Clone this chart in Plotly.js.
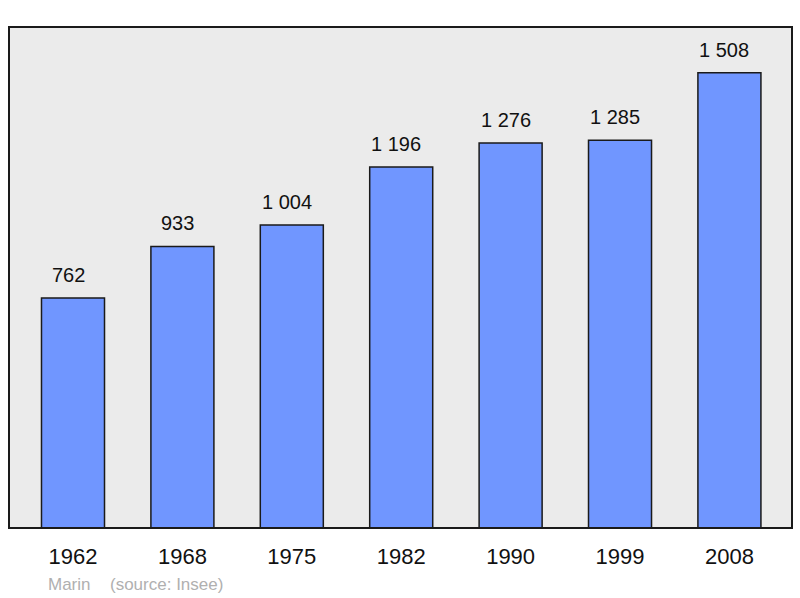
<!DOCTYPE html>
<html>
<head>
<meta charset="utf-8">
<script src="https://cdn.plot.ly/plotly-3.0.1.min.js"></script>
<style>html,body{margin:0;padding:0;background:#fff;}#chart{width:800px;height:598px;}</style>
</head>
<body>
<div id="chart"></div>
<script>
var years = ["1962", "1968", "1975", "1982", "1990", "1999", "2008"];
var population = [762, 933, 1004, 1196, 1276, 1285, 1508];
var labels = ["762", "933", "1 004", "1 196", "1 276", "1 285", "1 508"];
var commune = "Marin";
var source = "(source: Insee)";

var trace = {
  type: "bar",
  x: years,
  y: population,
  width: 0.576,
  marker: {color: "#7096ff", line: {color: "#1a1a1a", width: 1.5}},
  hoverinfo: "none"
};

var annotations = years.map(function (yr, i) {
  return {
    x: i, y: population[i], xref: "x", yref: "y",
    text: labels[i], showarrow: false, yanchor: "bottom", yshift: 10, xshift: -5,
    font: {family: "Liberation Sans, Arial, sans-serif", size: 20, color: "#111"}
  };
});
annotations.push({
  xref: "paper", yref: "paper", x: 0.047, y: -0.112, xanchor: "left", yanchor: "middle",
  text: commune, showarrow: false,
  font: {family: "Liberation Sans, Arial, sans-serif", size: 17, color: "#b0b0b0"}
});
annotations.push({
  xref: "paper", yref: "paper", x: 0.1264, y: -0.112, xanchor: "left", yanchor: "middle",
  text: source, showarrow: false,
  font: {family: "Liberation Sans, Arial, sans-serif", size: 17, color: "#b0b0b0"}
});

var layout = {
  width: 800, height: 598,
  margin: {l: 9, r: 8, t: 27, b: 70},
  paper_bgcolor: "#ffffff",
  plot_bgcolor: "#ebebeb",
  showlegend: false,
  xaxis: {
    type: "category", range: [-0.585, 6.572],
    showgrid: false, zeroline: false, showline: false, ticks: "",
    ticklabelstandoff: 13,
    tickfont: {family: "Liberation Sans, Arial, sans-serif", size: 22, color: "#111"},
    fixedrange: true
  },
  yaxis: {
    range: [0, 1660], showgrid: false, zeroline: false, showline: false,
    showticklabels: false, ticks: "", fixedrange: true
  },
  shapes: [{
    type: "rect", xref: "paper", yref: "paper", x0: 0, x1: 1, y0: 0, y1: 1,
    line: {color: "#1a1a1a", width: 2}, layer: "above"
  }],
  annotations: annotations
};

Plotly.newPlot("chart", [trace], layout, {displayModeBar: false, staticPlot: true});
</script>
</body>
</html>
